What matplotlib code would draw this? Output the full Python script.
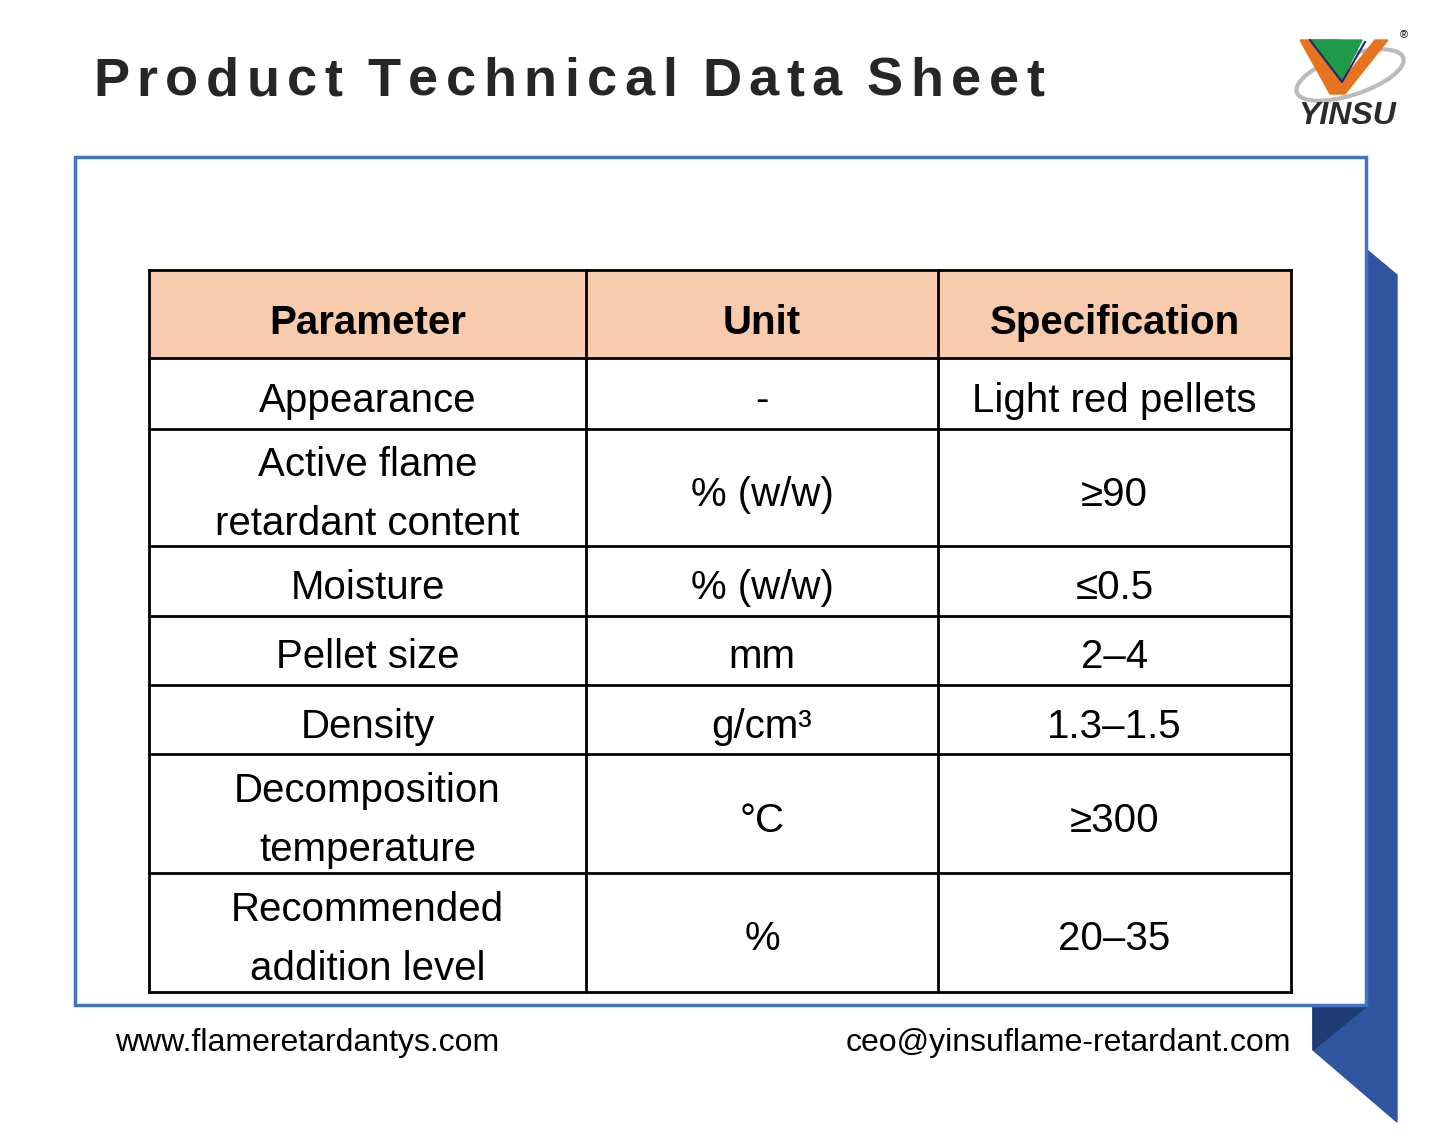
import matplotlib.pyplot as plt
from matplotlib.patches import Polygon, Rectangle, Ellipse

plt.rcParams['font.family'] = ['Liberation Sans', 'DejaVu Sans']

title = "Product Technical Data Sheet"
headers = ["Parameter", "Unit", "Specification"]
parameters = ["Appearance", "Active flame\nretardant content", "Moisture", "Pellet size",
              "Density", "Decomposition\ntemperature", "Recommended\naddition level"]
units = ["-", "% (w/w)", "% (w/w)", "mm", "g/cm³", "°C", "%"]
specs = ["Light red pellets", "≥90", "≤0.5", "2–4", "1.3–1.5", "≥300", "20–35"]
website = "www.flameretardantys.com"
email = "ceo@yinsuflame-retardant.com"

col_x = [149, 586, 938, 1291]
row_y = [270, 358, 429, 546, 616, 685, 754, 873, 992]

fig = plt.figure(figsize=(14.4, 11.48), dpi=100)
ax = fig.add_axes([0, 0, 1, 1])
ax.set_xlim(0, 1440)
ax.set_ylim(1148, 0)
ax.axis('off')

# blue ribbon behind the frame
ax.add_patch(Polygon([(1367, 250), (1397, 275), (1397, 1122), (1313, 1050),
                      (1313, 1006), (1367, 1006)], closed=True, color='#2F55A0', zorder=1))
ax.add_patch(Polygon([(1313, 1006), (1367, 1006), (1313, 1050)], closed=True,
                     color='#1F3B73', zorder=1))
# frame
ax.add_patch(Rectangle((75, 157), 1291, 848, facecolor='white', edgecolor='#4472C4',
                       lw=2.5, zorder=2))

# title with letter spacing
fig.canvas.draw()
r = fig.canvas.get_renderer()
x = 93
for ch in title:
    t = ax.text(x, 82, ch, fontsize=39, fontweight='bold', color='#262626',
                va='center', ha='left', zorder=5)
    w = t.get_window_extent(r).width
    x += (w if ch != ' ' else 10) + 7.5

# table
ax.add_patch(Rectangle((col_x[0], row_y[0]), col_x[-1] - col_x[0], row_y[1] - row_y[0],
                       facecolor='#F8CBAD', zorder=3))
for xx in col_x:
    ax.plot([xx, xx], [row_y[0], row_y[-1]], color='black', lw=2, zorder=4)
for yy in row_y:
    ax.plot([col_x[0], col_x[-1]], [yy, yy], color='black', lw=2, zorder=4)

for j, h in enumerate(headers):
    ax.text((col_x[j] + col_x[j + 1]) / 2, (row_y[0] + row_y[1]) / 2 + 9, h, fontsize=29,
            fontweight='bold', ha='center', va='center', zorder=5)
for i in range(len(parameters)):
    yc = (row_y[i + 1] + row_y[i + 2]) / 2 + 7
    for j, val in enumerate([parameters[i], units[i], specs[i]]):
        ax.text((col_x[j] + col_x[j + 1]) / 2, yc, val, fontsize=29, ha='center',
                va='center', linespacing=1.72, zorder=5)

ax.text(115, 1043, website, fontsize=23, ha='left', va='center')
ax.text(1291, 1043, email, fontsize=23, ha='right', va='center')

# logo
ax.add_patch(Ellipse((1350, 75), 112, 40, angle=-18, fill=False, ec='#BBBBBB', lw=3, zorder=5))
ax.add_patch(Polygon([(1300, 40), (1340, 40), (1345, 77), (1375, 40), (1388, 40),
                      (1345, 94), (1330, 94)], closed=True, color='#E8731F', zorder=6))
ax.add_patch(Polygon([(1310, 40), (1362, 40), (1342, 80)], closed=True,
                     color='#1E9A4A', zorder=7))
ax.plot([1310, 1342, 1365], [40, 82, 42], color='#1F2A6B', lw=1.5, zorder=8)
ax.text(1347, 116, "YINSU", fontsize=23, fontweight='bold', fontstyle='italic',
        color='#2B2B2B', ha='center', va='center', zorder=6)
ax.text(1404, 35, "®", fontsize=8, ha='center', va='center')

fig.savefig("out.png", dpi=100)
